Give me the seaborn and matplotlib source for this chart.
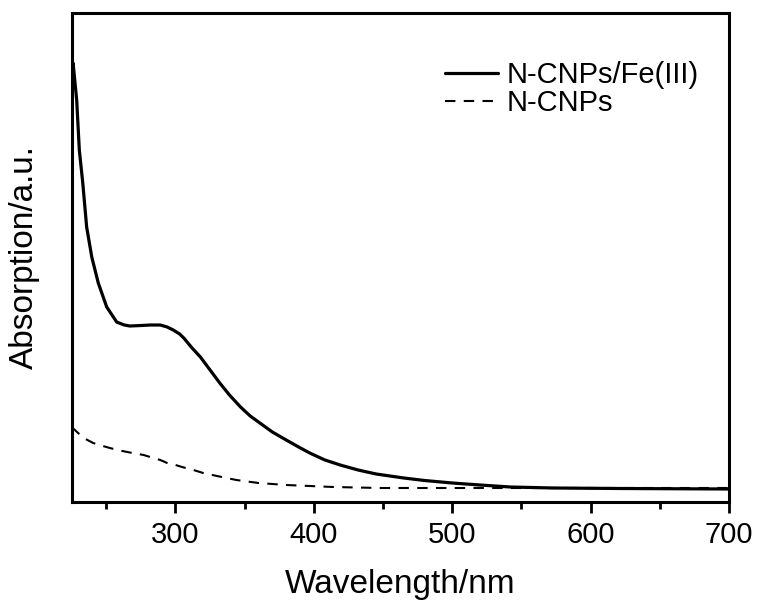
import pandas as pd
import matplotlib.pyplot as plt
import seaborn as sns
from matplotlib.ticker import MultipleLocator

# wavelength (nm) / absorption (a.u.)
wl_fe = [225, 226, 228.6, 230.5, 233, 235.8, 239.5, 244.2, 250.3, 257.5, 263, 267, 275,
         282, 289, 294, 298.4, 303, 306, 312, 318, 325, 332, 339, 347, 354, 361, 370,
         380, 389, 397, 408, 419, 432, 445, 465, 480, 500, 520, 542, 573, 621, 700]
abs_fe = [4.35, 4.39, 4.02, 3.52, 3.19, 2.75, 2.45, 2.19, 1.95, 1.80, 1.77, 1.76, 1.765,
          1.77, 1.77, 1.75, 1.72, 1.68, 1.64, 1.54, 1.45, 1.32, 1.19, 1.07, 0.95, 0.86,
          0.79, 0.70, 0.62, 0.55, 0.49, 0.42, 0.37, 0.32, 0.28, 0.24, 0.215, 0.19, 0.17,
          0.15, 0.14, 0.135, 0.13]

wl_cnp = [225, 229.6, 235, 240.5, 250, 258, 267, 277, 284, 289, 294, 300, 306, 313, 320,
          330, 344, 360, 380, 414, 448, 550, 700]
abs_cnp = [0.75, 0.69, 0.63, 0.59, 0.55, 0.52, 0.495, 0.47, 0.44, 0.42, 0.39, 0.37, 0.345,
           0.32, 0.29, 0.26, 0.22, 0.19, 0.17, 0.15, 0.14, 0.14, 0.14]

fe = pd.DataFrame({'wl': wl_fe, 'abs': abs_fe})
cnp = pd.DataFrame({'wl': wl_cnp, 'abs': abs_cnp})

sns.set_style("ticks")
plt.rcParams['font.family'] = ['Liberation Sans', 'DejaVu Sans']
plt.rcParams['text.color'] = 'black'
plt.rcParams['xtick.color'] = 'black'
plt.rcParams['axes.labelcolor'] = 'black'
plt.rcParams['axes.edgecolor'] = 'black'

fig = plt.figure(figsize=(7.58, 6.03), dpi=100)
ax = fig.add_axes([0.0946, 0.1675, 0.8671, 0.8109])

sns.lineplot(data=fe, x='wl', y='abs', color='black', lw=2.3, ax=ax,
             label='N-CNPs/Fe(III)', estimator=None)
sns.lineplot(data=cnp, x='wl', y='abs', color='black', lw=1.5, ax=ax,
             label='N-CNPs', estimator=None)
ax.lines[1].set_dashes([5, 4])

ax.set_xlim(225, 700)
ax.set_ylim(0, 4.89)
ax.set_yticks([])
ax.xaxis.set_major_locator(MultipleLocator(100))
ax.xaxis.set_minor_locator(MultipleLocator(50))
ax.tick_params(axis='x', which='major', length=8, width=2, pad=6, labelsize=21)
ax.tick_params(axis='x', which='minor', length=5, width=2)
for s in ax.spines.values():
    s.set_linewidth(2.2)

ax.set_xlabel('Wavelength/nm', fontsize=24, labelpad=14)
ax.set_ylabel('Absorption/a.u.', fontsize=24)
ax.yaxis.set_label_coords(-0.048, 0.5)

leg = ax.legend(loc='upper left', bbox_to_anchor=(0.568, 0.902), frameon=False,
                fontsize=21, borderpad=0, borderaxespad=0, handlelength=1.8,
                handletextpad=0.3, labelspacing=0.0)
leg.get_lines()[1].set_dashes([5, 4])

fig.savefig('out.png', dpi=100)
